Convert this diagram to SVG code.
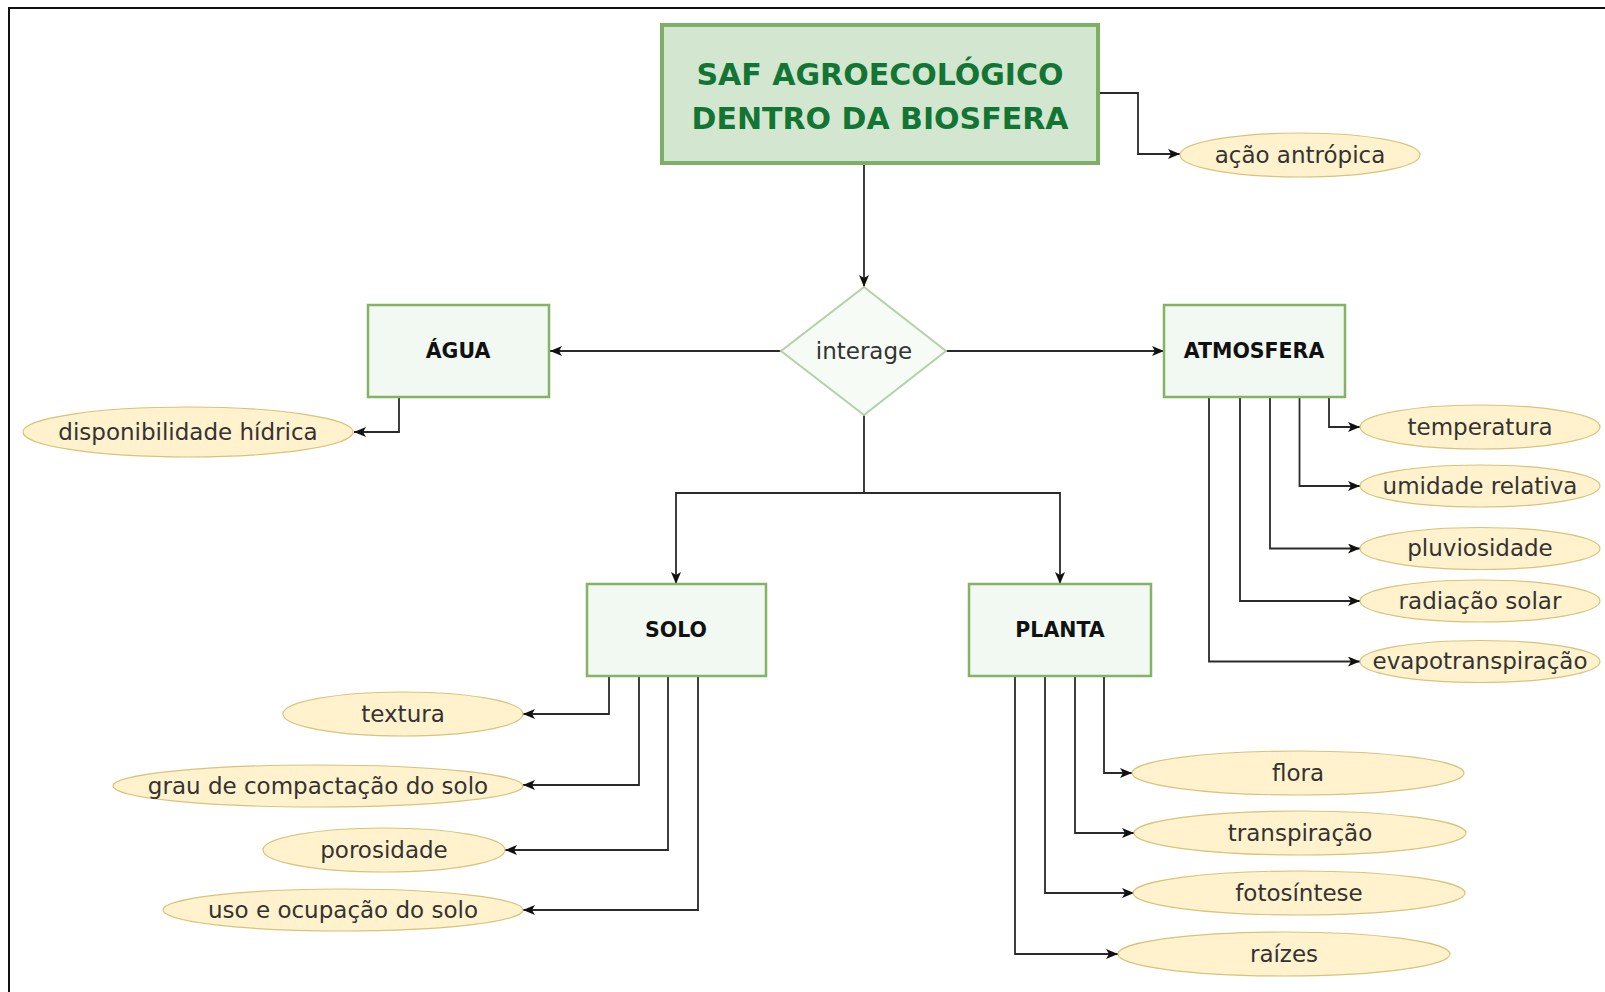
<svg xmlns="http://www.w3.org/2000/svg" width="1605" height="992" viewBox="0 0 1605 992">
<defs>
<marker id="arr" viewBox="0 0 12 10" refX="12" refY="5" markerWidth="12" markerHeight="10" markerUnits="userSpaceOnUse" orient="auto">
<path d="M0,0 L12,5 L0,10 L3,5 Z" fill="#111"/>
</marker>
</defs>
<style>
.frame{fill:none;stroke:#111;stroke-width:2}
.title{fill:#d3e7d0;stroke:#7fae68;stroke-width:4}
.box{fill:#f1f9f2;stroke:#82b366;stroke-width:2.5}
.dia{fill:#f6fbf6;stroke:#b3d2a6;stroke-width:2}
.ell{fill:#fff2cc;stroke:#d9c27a;stroke-width:1.2}
.tt{font-family:"DejaVu Sans",sans-serif;font-weight:bold;font-size:30px;fill:#137534;text-anchor:middle}
.bt{font-family:"DejaVu Sans",sans-serif;font-weight:bold;font-size:20.5px;fill:#111;text-anchor:middle}
.et{font-family:"DejaVu Sans",sans-serif;font-size:23px;fill:#333;text-anchor:middle}
.con path{fill:none;stroke:#2a2a2a;stroke-width:1.8;marker-end:url(#arr)}
.con path.n{marker-end:none}
</style>
<rect class="frame" x="9" y="8" width="1610" height="1000"/>

<g class="con" id="connectors">
<path d="M1098,93 H1138 V154 H1180"/>
<path d="M864,163 V287"/>
<path d="M781,351 H550"/>
<path d="M946,351 H1164"/>
<path class="n" d="M864,415 V493"/>
<path d="M864,493 H676 V584"/>
<path d="M864,493 H1060 V584"/>
<path d="M399,397 V432 H354"/>
<path d="M1329,397 V427 H1360"/>
<path d="M1299.5,397 V486 H1360"/>
<path d="M1270,397 V548.5 H1360"/>
<path d="M1240,397 V601 H1360"/>
<path d="M1209,397 V661.5 H1360"/>
<path d="M609,676 V714 H523"/>
<path d="M639,676 V785 H523"/>
<path d="M668,676 V850 H505"/>
<path d="M698,676 V910 H523"/>
<path d="M1104,676 V773 H1132"/>
<path d="M1075,676 V833 H1134"/>
<path d="M1045,676 V893 H1134"/>
<path d="M1015,676 V954 H1118"/>
</g>

<g id="title">
<rect class="title" x="662" y="25" width="436" height="138"/>
<text class="tt" x="880" y="85">SAF AGROECOLÓGICO</text>
<text class="tt" x="880" y="129">DENTRO DA BIOSFERA</text>
</g>

<g id="acao">
<ellipse class="ell" cx="1300" cy="155" rx="120" ry="22"/>
<text class="et" x="1300" y="163">ação antrópica</text>
</g>

<g id="interage">
<polygon class="dia" points="864,287 946,351 864,415 781,351"/>
<text class="et" x="864" y="359">interage</text>
</g>

<g id="agua">
<rect class="box" x="368" y="305" width="181" height="92"/>
<text class="bt" x="458" y="358">ÁGUA</text>
</g>

<g id="atmosfera">
<rect class="box" x="1164" y="305" width="181" height="92"/>
<text class="bt" x="1254" y="358">ATMOSFERA</text>
</g>

<g id="solo">
<rect class="box" x="587" y="584" width="179" height="92"/>
<text class="bt" x="676" y="637">SOLO</text>
</g>

<g id="planta">
<rect class="box" x="969" y="584" width="182" height="92"/>
<text class="bt" x="1060" y="637">PLANTA</text>
</g>

<g id="disponibilidade">
<ellipse class="ell" cx="188" cy="432" rx="165" ry="25"/>
<text class="et" x="188" y="440">disponibilidade hídrica</text>
</g>

<g id="temperatura">
<ellipse class="ell" cx="1480" cy="427" rx="120" ry="22"/>
<text class="et" x="1480" y="435">temperatura</text>
</g>
<g id="umidade">
<ellipse class="ell" cx="1480" cy="486" rx="120" ry="21"/>
<text class="et" x="1480" y="494">umidade relativa</text>
</g>
<g id="pluviosidade">
<ellipse class="ell" cx="1480" cy="548.5" rx="120" ry="21"/>
<text class="et" x="1480" y="556">pluviosidade</text>
</g>
<g id="radiacao">
<ellipse class="ell" cx="1480" cy="601" rx="120" ry="21"/>
<text class="et" x="1480" y="609">radiação solar</text>
</g>
<g id="evapo">
<ellipse class="ell" cx="1480" cy="661.5" rx="120" ry="21"/>
<text class="et" x="1480" y="669">evapotranspiração</text>
</g>

<g id="textura">
<ellipse class="ell" cx="403" cy="714" rx="120" ry="22"/>
<text class="et" x="403" y="722">textura</text>
</g>
<g id="grau">
<ellipse class="ell" cx="318" cy="786" rx="205" ry="21"/>
<text class="et" x="318" y="794">grau de compactação do solo</text>
</g>
<g id="porosidade">
<ellipse class="ell" cx="384" cy="850" rx="121" ry="22"/>
<text class="et" x="384" y="858">porosidade</text>
</g>
<g id="uso">
<ellipse class="ell" cx="343" cy="910" rx="180" ry="21"/>
<text class="et" x="343" y="918">uso e ocupação do solo</text>
</g>

<g id="flora">
<ellipse class="ell" cx="1298" cy="773" rx="166" ry="22"/>
<text class="et" x="1298" y="781">flora</text>
</g>
<g id="transpiracao">
<ellipse class="ell" cx="1300" cy="833" rx="166" ry="22"/>
<text class="et" x="1300" y="841">transpiração</text>
</g>
<g id="fotosintese">
<ellipse class="ell" cx="1299" cy="893" rx="166" ry="22"/>
<text class="et" x="1299" y="901">fotosíntese</text>
</g>
<g id="raizes">
<ellipse class="ell" cx="1284" cy="954" rx="166" ry="22"/>
<text class="et" x="1284" y="962">raízes</text>
</g>
</svg>
